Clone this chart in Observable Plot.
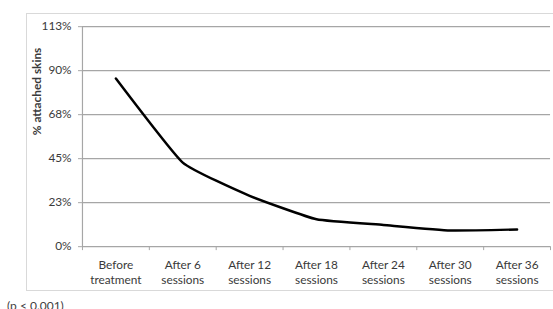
<!DOCTYPE html>
<html>
<head>
<meta charset="utf-8">
<script src="https://cdn.jsdelivr.net/npm/d3@7"></script>
<script src="https://cdn.jsdelivr.net/npm/@observablehq/plot@0.6"></script>
<style>
  html, body { margin: 0; padding: 0; background: #fff; overflow: hidden; }
  #wrap { position: relative; width: 553px; height: 309px; overflow: hidden; }
  #border { position: absolute; left: 26px; top: 13px; width: 600px; height: 278px; box-sizing: border-box; border: 1px solid #d9d9d9; }
  #chart { position: absolute; left: 0; top: 0; }
  #caption { position: absolute; left: 7px; top: 300px; font: 12px Lato, sans-serif; line-height: 1; color: #404040; white-space: nowrap; }
</style>
</head>
<body>
<div id="wrap">
  <div id="border"></div>
  <div id="chart"></div>
  <div id="caption">(p &lt; 0.001)</div>
</div>
<script>
const categories = ["Before\ntreatment", "After 6\nsessions", "After 12\nsessions", "After 18\nsessions", "After 24\nsessions", "After 30\nsessions", "After 36\nsessions"];
const values = [86, 43, 26, 14, 11.1, 8.3, 8.8];
const yTicks = [0, 22.5, 45, 67.5, 90, 112.5];
const yTitle = "% attached skins";

const idx = categories.map((_, i) => i);
const boundaries = d3.range(-0.5, categories.length, 1);
const gray = "#a6a6a6";

const chart = Plot.plot({
  width: 560,
  height: 309,
  marginLeft: 83,
  marginRight: 3,
  marginTop: 26.5,
  marginBottom: 59.7,
  x: {domain: [-0.5, categories.length - 0.5], axis: null},
  y: {domain: [0, 112.5], axis: null},
  style: {fontFamily: "Lato, sans-serif", fontSize: "12px", color: "#3a3a3a", background: "transparent"},
  marks: [
    Plot.gridY(yTicks, {stroke: gray, strokeOpacity: 1, strokeWidth: 1.2}),
    Plot.ruleX([-0.5], {stroke: gray, strokeWidth: 1.2}),
    Plot.axisY(yTicks, {tickSize: 4, tickPadding: 7, tickFormat: d => Math.round(d) + "%", stroke: gray, label: null}),
    Plot.axisX(boundaries, {tickSize: 4, tickFormat: () => "", stroke: gray, label: null}),
    Plot.axisX(idx, {tickSize: 0, tickPadding: 12, tickFormat: i => categories[i], lineHeight: 1.25, label: null}),
    Plot.lineY(values, {x: (d, i) => idx[i], y: d => d, curve: "cardinal", tension: 0.6, stroke: "#000", strokeWidth: 2.5}),
    Plot.text([yTitle], {frameAnchor: "left", dx: -46, dy: -1.5, rotate: -90, fontWeight: "bold", fill: "#3a3a3a"})
  ]
});
document.getElementById("chart").appendChild(chart);
</script>
</body>
</html>
